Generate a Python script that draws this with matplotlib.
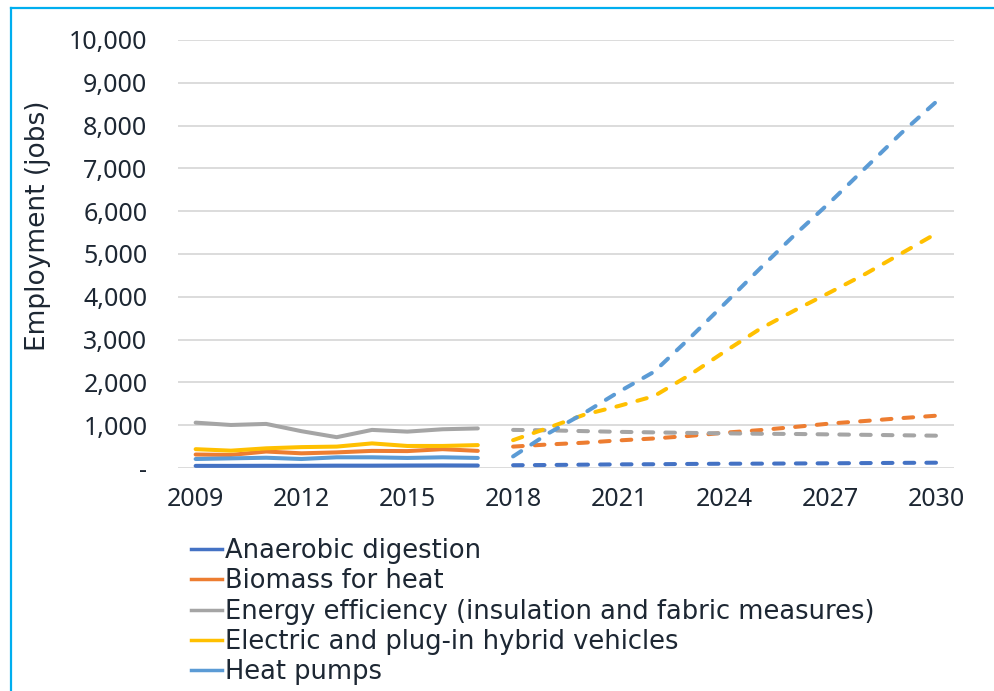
import numpy as np
import matplotlib.pyplot as plt
from matplotlib.lines import Line2D
from matplotlib.ticker import FuncFormatter

# Data
years_hist = [2009, 2010, 2011, 2012, 2013, 2014, 2015, 2016, 2017]
years_proj = [2018, 2019, 2020, 2021, 2022, 2023, 2024, 2025, 2026, 2027, 2028, 2029, 2030]

anaerobic_hist = [50, 50, 52, 52, 55, 55, 58, 60, 58]
biomass_hist = [315, 305, 385, 343, 365, 400, 395, 440, 400]
efficiency_hist = [1060, 1005, 1030, 860, 720, 890, 850, 905, 925]
ev_hist = [440, 405, 460, 488, 500, 575, 515, 515, 535]
heatpump_hist = [210, 225, 240, 210, 250, 250, 235, 250, 235]

anaerobic_proj = [65, 70, 78, 85, 88, 95, 100, 102, 106, 110, 115, 120, 124]
biomass_proj = [500, 550, 590, 645, 690, 750, 825, 885, 960, 1040, 1100, 1165, 1222]
efficiency_proj = [890, 880, 862, 845, 832, 820, 810, 800, 795, 785, 775, 765, 755]
ev_proj = [650, 940, 1240, 1450, 1680, 2170, 2720, 3250, 3690, 4110, 4540, 5010, 5480]
heatpump_proj = [270, 810, 1275, 1780, 2250, 3030, 3840, 4660, 5460, 6220, 7020, 7820, 8560]

labels = ['Anaerobic digestion', 'Biomass for heat',
          'Energy efficiency (insulation and fabric measures)',
          'Electric and plug-in hybrid vehicles', 'Heat pumps']
colors = ['#4472C4', '#ED7D31', '#A5A5A5', '#FFC000', '#5B9BD5']

hist = [anaerobic_hist, biomass_hist, efficiency_hist, ev_hist, heatpump_hist]
proj = [anaerobic_proj, biomass_proj, efficiency_proj, ev_proj, heatpump_proj]

text_color = '#1d2733'
plt.rcParams['font.family'] = ['Noto Sans', 'DejaVu Sans']
plt.rcParams['text.color'] = text_color

fig = plt.figure(figsize=(9.94, 6.91), dpi=100)
ax = fig.add_axes([178 / 994, 1 - 468 / 691, (954 - 178) / 994, (468 - 40) / 691])

for h, p, c in zip(hist, proj, colors):
    ax.plot(years_hist, h, color=c, lw=2.9, solid_capstyle='round', solid_joinstyle='round')
    ax.plot(years_proj, p, color=c, lw=2.9, dashes=(2.4, 3.0), dash_capstyle='round')

ax.set_xlim(2008.5, 2030.5)
ax.set_ylim(0, 10000)
ax.set_xticks(np.arange(2009, 2031, 3))
ax.set_yticks(np.arange(0, 10001, 1000))
ax.yaxis.set_major_formatter(FuncFormatter(lambda v, pos: '-' if v == 0 else f'{int(v):,}'))
ax.grid(axis='y', color='#d9d9d9', lw=1.3)
ax.set_axisbelow(True)
for s in ax.spines.values():
    s.set_visible(False)
ax.tick_params(axis='y', length=0, pad=22, labelsize=18, labelcolor=text_color)
ax.tick_params(axis='x', length=0, pad=14, labelsize=18, labelcolor=text_color)

fig.text(38 / 994, 1 - 226 / 691, 'Employment (jobs)', rotation=90, family='DejaVu Sans',
         ha='center', va='center', fontsize=19, color=text_color)

handles = [Line2D([], [], color=c, lw=2.5) for c in colors]
fig.legend(handles, labels, loc='upper left', bbox_to_anchor=(191 / 994, 1 - 538 / 691),
           frameon=False, prop={'family': 'DejaVu Sans', 'size': 18.5},
           handlelength=1.2, handletextpad=0.12,
           labelspacing=0.17, borderaxespad=0, borderpad=0)

# light blue frame on the left and top edges
fig.add_artist(Line2D([11 / 994, 11 / 994], [0, 1 - 8 / 691], color='#00AEEF', lw=1.6,
                      transform=fig.transFigure))
fig.add_artist(Line2D([11 / 994, 1], [1 - 8 / 691, 1 - 8 / 691], color='#00AEEF', lw=1.6,
                      transform=fig.transFigure))

fig.savefig('out.png', dpi=100)
